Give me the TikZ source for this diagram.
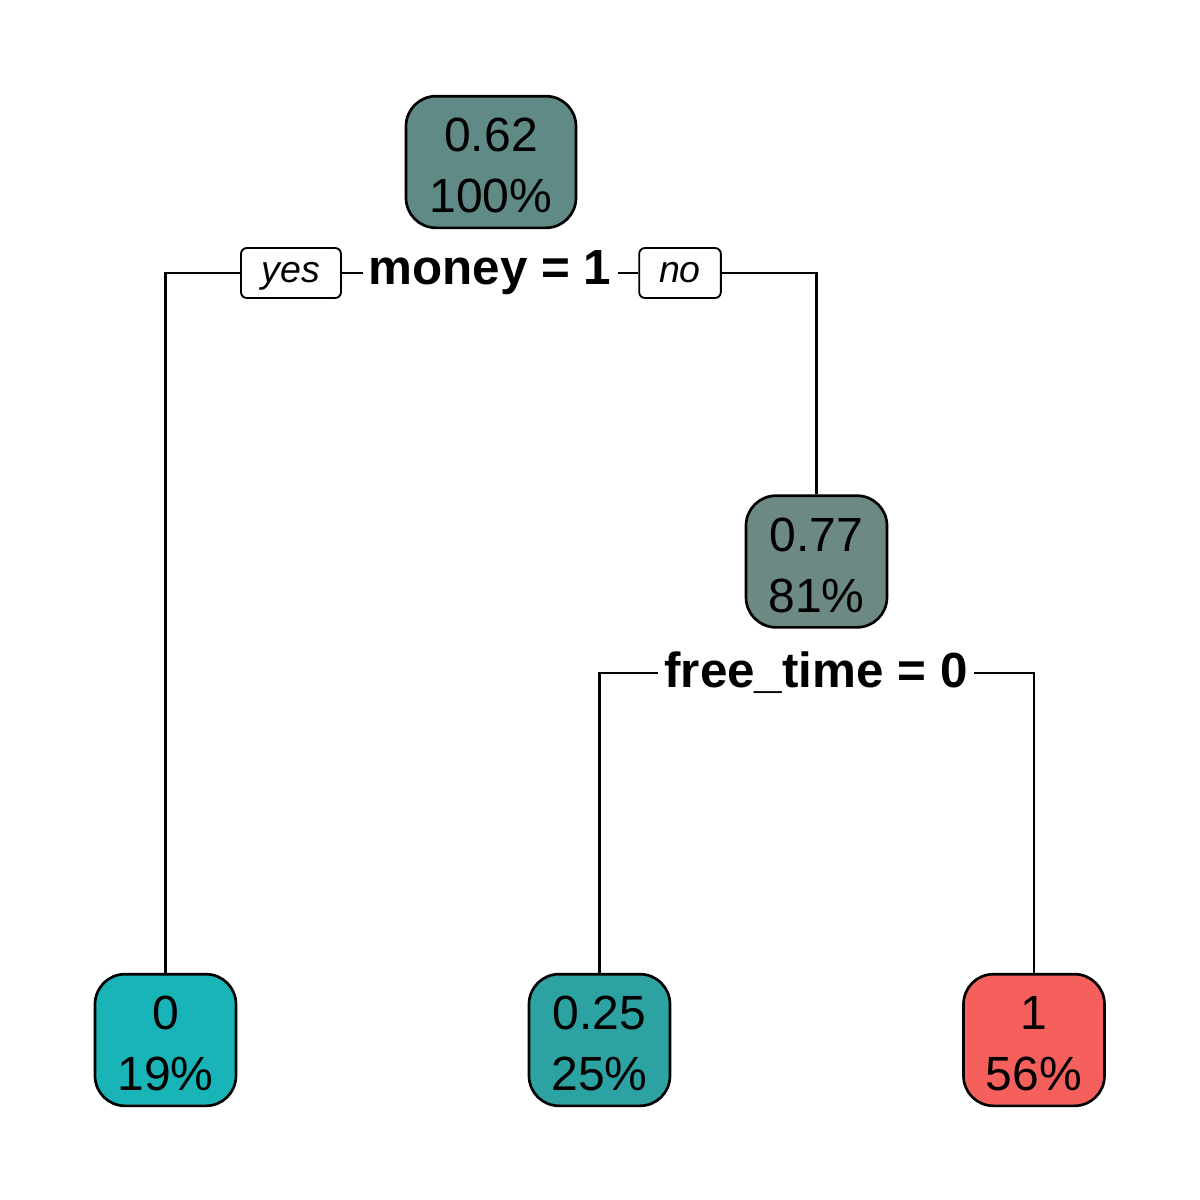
\documentclass[tikz,border=0pt]{standalone}
\usepackage{fontspec}
\setmainfont{Liberation Sans}
\usetikzlibrary{backgrounds}
\definecolor{rootc}{HTML}{5F8A85}
\definecolor{midc}{HTML}{6D8984}
\definecolor{leafa}{HTML}{19B4B8}
\definecolor{leafb}{HTML}{2CA2A2}
\definecolor{leafc}{HTML}{F5605C}
\newcommand{\topstrut}{\rule{0pt}{24.3pt}}
\begin{document}
\begin{tikzpicture}[x=0.6pt,y=-0.6pt,
  treenode/.style={draw=black, line width=1.6pt, rounded corners=18pt, align=center,
    minimum width=84.6pt, minimum height=79pt, inner sep=0pt,
    font=\fontsize{28.8}{36.6}\selectfont},
  splitlab/.style={fill=white, inner xsep=3.5pt, inner ysep=1pt, font=\fontsize{29.6}{34}\selectfont\bfseries},
  yesno/.style={draw=black, fill=white, line width=1.1pt, rounded corners=3.5pt,
    minimum height=30pt, inner sep=0pt, text height=11.7pt, text depth=0pt,
    font=\fontsize{22.5}{26}\selectfont\itshape},
  conn/.style={line width=1.4pt}]
\useasboundingbox (0,0) rectangle (1200,1200);
\node[treenode, fill=rootc, minimum width=102pt] (root) at (491,162) {\topstrut 0.62\\100\%};
\node[treenode, fill=midc] (mid) at (816.5,561.5) {\topstrut 0.77\\81\%};
\node[treenode, fill=leafa] (l0) at (165.5,1040) {\topstrut 0\\19\%};
\node[treenode, fill=leafb] (l1) at (599.5,1040) {\topstrut 0.25\\25\%};
\node[treenode, fill=leafc] (l2) at (1034,1040) {\topstrut 1\\56\%};
\node[splitlab] (s1) at (490,273) {money = 1};
\node[yesno, minimum width=60pt] (yes) at (291,273) {yes};
\node[yesno, minimum width=49pt] (no) at (680,273) {no};
\node[splitlab] (s2) at (816,673) {free\_time = 0};
\begin{scope}[on background layer]
\draw[conn] (l0.north) |- (yes.west);
\draw[conn] (yes.east) -- (s1.west);
\draw[conn] (s1.east) -- (no.west);
\draw[conn] (no.east) -| (mid.north);
\draw[conn] (l1.north) |- (s2.west);
\draw[conn] (s2.east) -| (l2.north);
\end{scope}
\end{tikzpicture}
\end{document}
